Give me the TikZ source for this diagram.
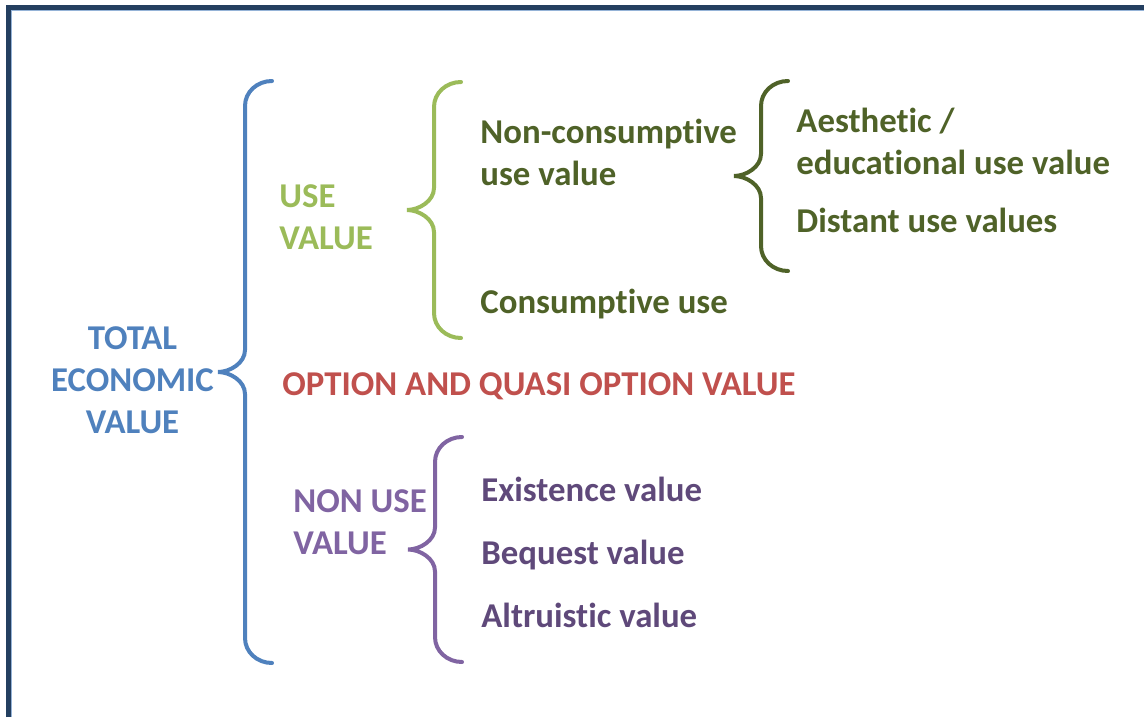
\documentclass[tikz,border=0pt]{standalone}
\usepackage{fontspec}
\setmainfont[Ligatures=NoCommon]{Carlito}
\usepackage{tikz}
\usetikzlibrary{calc}
\definecolor{tevblue}{RGB}{79,129,189}
\definecolor{uselime}{RGB}{155,187,89}
\definecolor{usedark}{RGB}{79,98,40}
\definecolor{optred}{RGB}{192,80,77}
\definecolor{nonlilac}{RGB}{128,100,162}
\definecolor{nondark}{RGB}{95,73,122}
\definecolor{framenavy}{RGB}{36,63,96}
\definecolor{framelight}{RGB}{149,179,215}

% curly brace: colour, tip x, top y, bottom y (pixel units, y down)
\newcommand{\valbrace}[4]{%
  \draw[bline, #1] (#2+54,#3)
    .. controls (#2+39,#3) and (#2+27,#3+11) .. (#2+27,#3+25)
    -- (#2+27,{(#3+#4)/2-22})
    .. controls (#2+27,{(#3+#4)/2-9}) and (#2+12,{(#3+#4)/2}) .. (#2,{(#3+#4)/2})
    .. controls (#2+12,{(#3+#4)/2}) and (#2+27,{(#3+#4)/2+9}) .. (#2+27,{(#3+#4)/2+22})
    -- (#2+27,#4-25)
    .. controls (#2+27,#4-11) and (#2+39,#4) .. (#2+54,#4);}

\begin{document}
\begin{tikzpicture}[
  x=0.5pt, y=-0.5pt,
  bline/.style={line width=2pt, line cap=round},
  lbl/.style={inner sep=0pt, font=\fontsize{17.4}{20.8}\selectfont\bfseries,
              anchor=base west, align=left}
]
\useasboundingbox (0,0) rectangle (1144,717);

% frame
\draw[framelight, line width=0.6pt] (11.5,717) -- (11.5,10.5) -- (1144,10.5);
\draw[framenavy, line width=2.5pt] (8.5,717) -- (8.5,7.5) -- (1144,7.5);

% root
\node[lbl, text=tevblue, align=center, anchor=base] (tev) at (132.5,433) {TOTAL\\ECONOMIC\\VALUE};

% use branch
\node[lbl, text=uselime] (use) at (279,249) {USE\\VALUE};
\node[lbl, text=usedark] (noncons) at (480,185) {Non-consumptive\\use value};
\node[lbl, text=usedark] (cons)    at (480,313) {Consumptive use};
\node[lbl, text=usedark] (aesth)   at (796,174) {Aesthetic /\\educational use value};
\node[lbl, text=usedark] (distant) at (796,232) {Distant use values};

% option
\node[lbl, text=optred] (option) at (282,395) {OPTION AND QUASI OPTION VALUE};

% non use branch
\node[lbl, text=nonlilac] (nonuse) at (293,554) {NON USE\\VALUE};
\node[lbl, text=nondark] (exist)   at (481,501) {Existence value};
\node[lbl, text=nondark] (bequest) at (481,564) {Bequest value};
\node[lbl, text=nondark] (altru)   at (481,627) {Altruistic value};

% braces
\valbrace{tevblue}{218}{81}{663}
\valbrace{uselime}{407}{82}{338}
\valbrace{usedark}{734}{81}{271}
\valbrace{nonlilac}{408}{437}{662}
\end{tikzpicture}
\end{document}
